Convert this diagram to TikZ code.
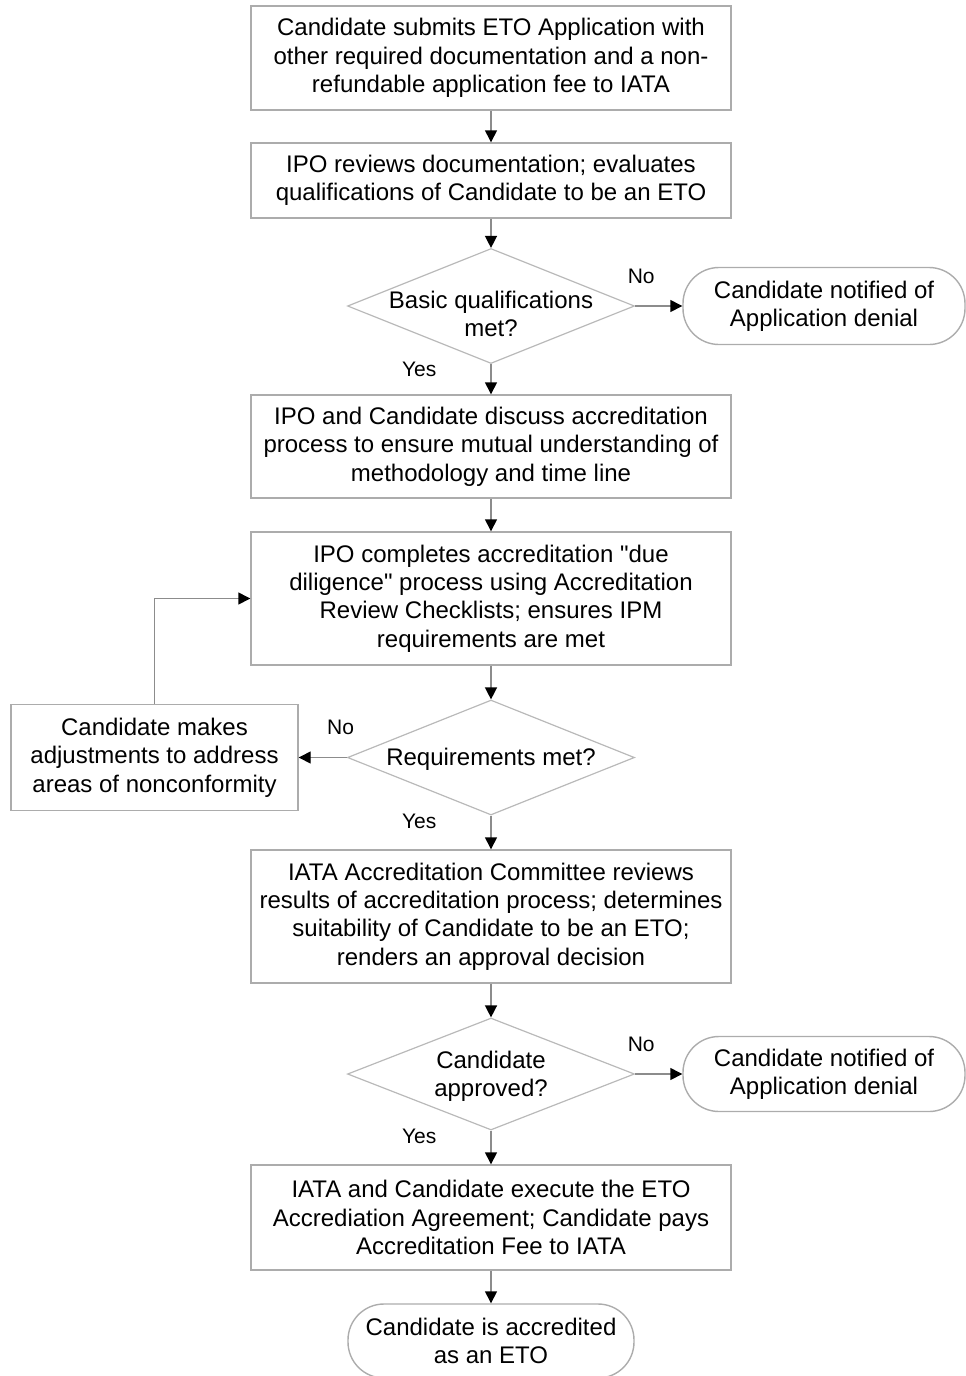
\documentclass[tikz,border=0pt]{standalone}
\usepackage{fontspec}
\setmainfont{Liberation Sans}[Ligatures=TeXOff]
\usetikzlibrary{arrows.meta,shapes.geometric}

% text of a decision diamond: takes no room, so the diamond keeps its size
\newcommand{\dtext}[2][0pt]{\smash{\makebox[0pt]{\raisebox{\dimexpr-4.3pt+#1\relax}{\begin{tabular}{@{}c@{}}#2\end{tabular}}}}}

\begin{document}
\begin{tikzpicture}[
x=0.5pt, y=-0.5pt, % one unit = one pixel of the drawing, y going down
every node/.style={font=\fontsize{12}{14.2}\selectfont},
process/.style={draw=gray!65, line width=0.7pt, align=center, minimum width=240pt, inner xsep=2pt},
decision/.style={diamond, draw=gray!55, line width=0.6pt, inner sep=0pt, minimum width=143.5pt, minimum height=57.5pt},
terminal/.style={draw=gray!65, line width=0.7pt, rounded corners=18pt, align=center, minimum width=141pt, minimum height=38.5pt},
flow/.style={draw=gray!90, line width=0.7pt, -{Triangle[length=6pt, width=6pt, black]}},
answer/.style={font=\fontsize{10.5}{12}\selectfont, inner sep=0pt}
]
\useasboundingbox (0,0) rectangle (965,1376);

% ================= Nodes =================

% Application and first check
\node[process, minimum height=52pt] (apply) at (491, 58) {Candidate submits ETO Application with\\other required documentation and a non-\\refundable application fee to IATA};
\node[process, minimum height=37.5pt] (review) at (491, 180.5) {IPO reviews documentation; evaluates\\qualifications of Candidate to be an ETO};
\node[decision] (basic) at (491, 306) {\dtext[-4pt]{Basic qualifications\\met?}};
\node[terminal] (denyA) at (824, 306) {Candidate notified of\\Application denial};

% Accreditation process and its loop
\node[process, minimum height=51.5pt] (discuss) at (491, 446.5) {IPO and Candidate discuss accreditation\\process to ensure mutual understanding of\\methodology and time line};
\node[process, minimum height=66.5pt] (diligence) at (491, 598.5) {IPO completes accreditation "due\\diligence" process using Accreditation\\Review Checklists; ensures IPM\\requirements are met};
\node[decision] (reqs) at (491, 757.5) {\dtext{Requirements met?}};
\node[process, minimum width=143.5pt, minimum height=53pt] (adjust) at (154.5, 757.5) {Candidate makes\\adjustments to address\\areas of nonconformity};

% Committee decision
\node[process, minimum height=66.5pt] (committee) at (491, 916.5) {IATA Accreditation Committee reviews\\results of accreditation process; determines\\suitability of Candidate to be an ETO;\\renders an approval decision};
\node[decision, minimum height=56pt] (approved) at (491, 1074) {\dtext{Candidate\\approved?}};
\node[terminal, minimum height=37.5pt] (denyB) at (824, 1074) {Candidate notified of\\Application denial};

% Agreement and end
\node[process, minimum height=52.5pt] (agree) at (491, 1217.5) {IATA and Candidate execute the ETO\\Accrediation Agreement; Candidate pays\\Accreditation Fee to IATA};
\node[terminal, minimum width=143pt, minimum height=37pt] (accredited) at (491, 1341) {Candidate is accredited\\as an ETO};

% ================= Edges =================

\draw[flow] (apply.south) -- (review.north);
\draw[flow] (review.south) -- (basic.north);
\draw[flow] (basic.east) -- node[answer, pos=0.13, above=11pt] {No} (denyA.west);
\draw[flow] (basic.south) -- node[answer, pos=0.17, left=27pt] {Yes} (discuss.north);
\draw[flow] (discuss.south) -- (diligence.north);
\draw[flow] (diligence.south) -- (reqs.north);

% Loop back through the adjustments
\draw[flow] (reqs.west) -- node[answer, pos=0.13, above=11pt] {No} (adjust.east);
\draw[flow] (adjust.north) |- (diligence.west);

\draw[flow] (reqs.south) -- node[answer, pos=0.17, left=27pt] {Yes} (committee.north);
\draw[flow] (committee.south) -- (approved.north);
\draw[flow] (approved.east) -- node[answer, pos=0.13, above=11pt] {No} (denyB.west);
\draw[flow] (approved.south) -- node[answer, pos=0.17, left=27pt] {Yes} (agree.north);
\draw[flow] (agree.south) -- (accredited.north);

\end{tikzpicture}
\end{document}
